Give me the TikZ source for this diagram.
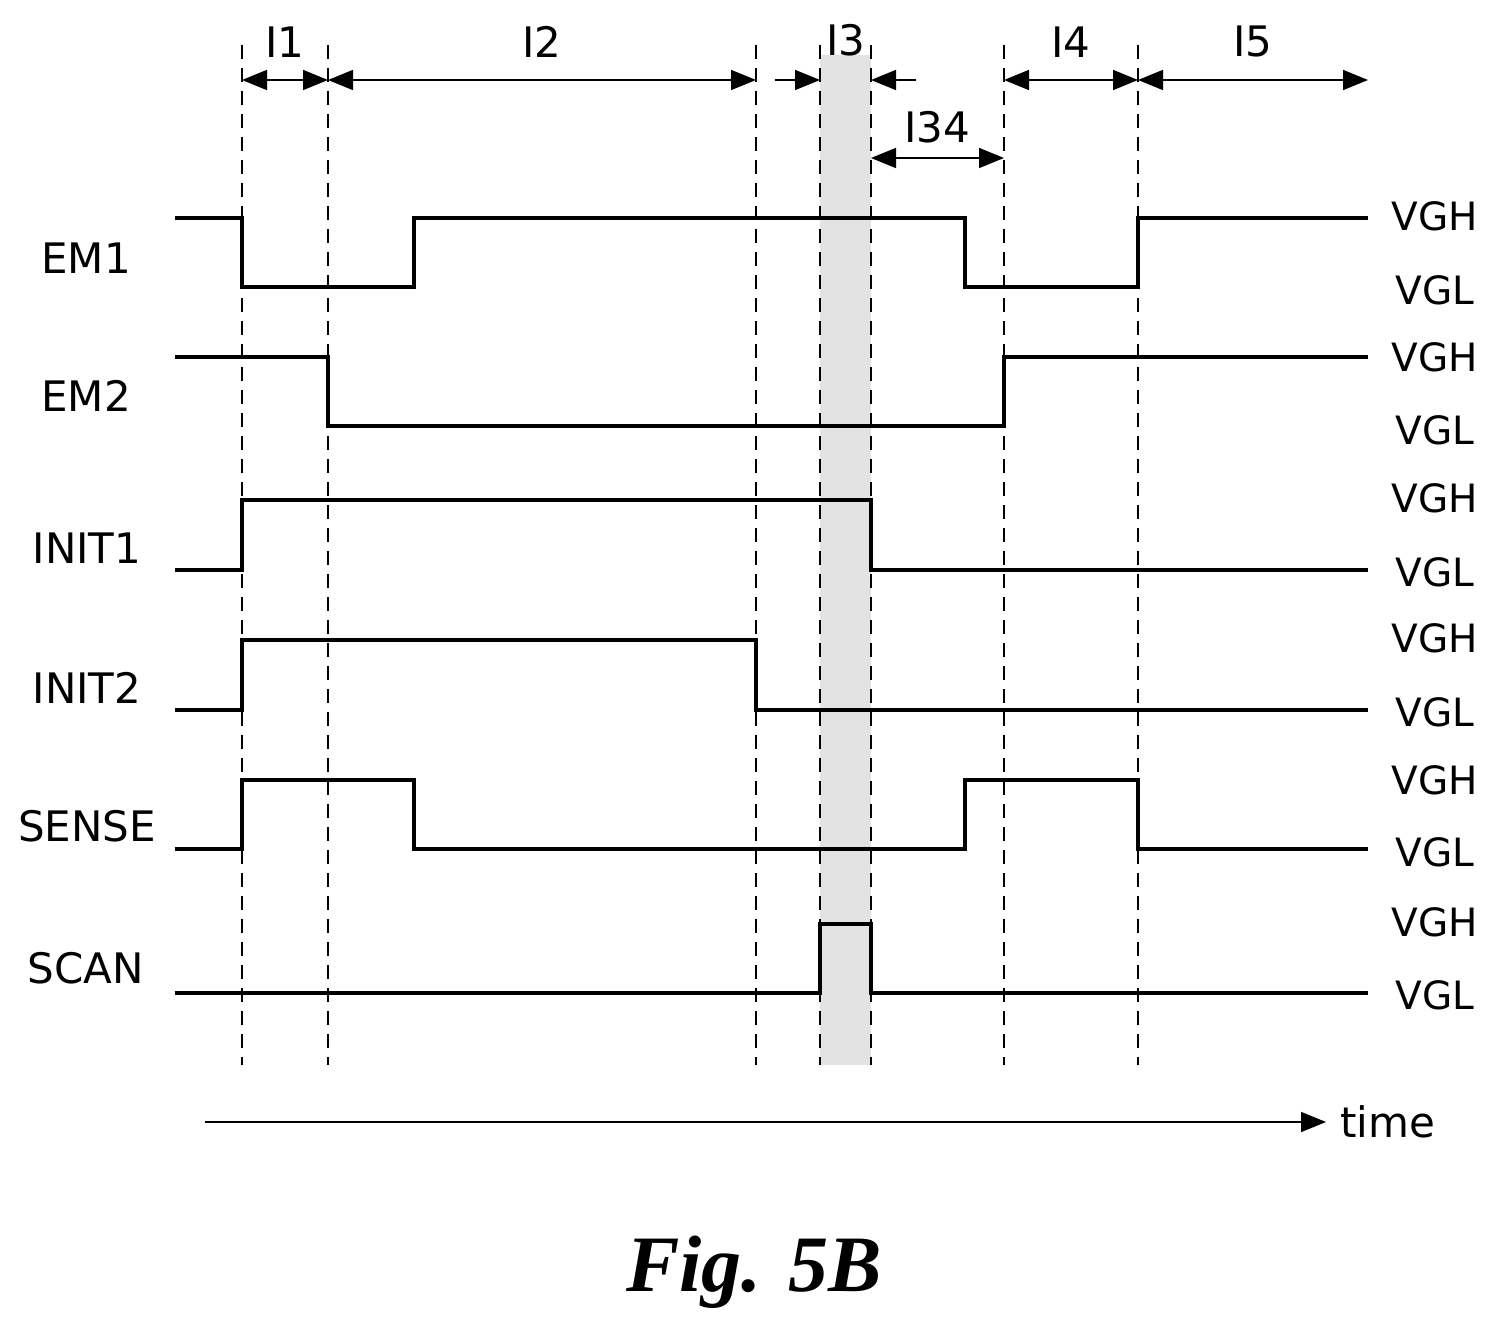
\documentclass[tikz,border=0pt]{standalone}
\usepackage{fontspec}
\setmainfont{DejaVu Sans}
\newfontfamily\figfont{Liberation Serif}
\usetikzlibrary{arrows.meta, positioning}
\begin{document}
\begin{tikzpicture}[x=1pt, y=-1pt,
 signal/.style={line width=3.4pt, line join=miter},
 guide/.style={line width=1.4pt, dash pattern=on 14pt off 9pt},
 span/.style={line width=1.6pt, {Triangle[length=25pt,width=20pt]}-{Triangle[length=25pt,width=20pt]}},
 tip/.style={line width=1.6pt, -{Triangle[length=25pt,width=20pt]}},
 lbl/.style={font=\fontsize{42}{46}\selectfont, inner sep=0pt},
 lvl/.style={font=\fontsize{39}{43}\selectfont, inner sep=0pt},
 ]
 \useasboundingbox (0,0) rectangle (1498,1340);
 % shaded I3 band
 \fill[gray!22] (820,55) rectangle (871,1065);
 % dashed guides
 \foreach \x in {242,328,756,820,871,1004,1138}
  \draw[guide] (\x,45) -- (\x,1065);

 % interval arrows
 \coordinate (t1) at (242,80); \coordinate (t2) at (328,80);
 \coordinate (t3) at (756,80); \coordinate (t4) at (1004,80);
 \coordinate (t5) at (1138,80); \coordinate (t6) at (1368,80);
 \draw[span] (t1) -- node[lbl, above=22pt] {I1} (t2);
 \draw[span] (t2) -- node[lbl, above=22pt] {I2} (t3);
 \coordinate (i3a) at (775,80); \coordinate (i3b) at (820,80);
 \coordinate (i3c) at (916,80); \coordinate (i3d) at (871,80);
 \draw[tip] (i3a) -- (i3b);
 \draw[tip] (i3c) -- (i3d);
 \node[lbl] (lI3) at (846,40) {I3};
 \draw[span] (t4) -- node[lbl, above=22pt] {I4} (t5);
 \draw[span] (t5) -- node[lbl, above=22pt] {I5} (t6);
 \coordinate (s34a) at (871,158); \coordinate (s34b) at (1004,158);
 \draw[span] (s34a) -- node[lbl, above=14pt] {I34} (s34b);

 % waveforms
 \draw[signal] (175,218) -- (242,218) -- (242,287) -- (414,287) -- (414,218)
  -- (965,218) -- (965,287) -- (1138,287) -- (1138,218) -- (1368,218);
 \draw[signal] (175,357) -- (328,357) -- (328,426) -- (1004,426) -- (1004,357) -- (1368,357);
 \draw[signal] (175,570) -- (242,570) -- (242,500) -- (871,500) -- (871,570) -- (1368,570);
 \draw[signal] (175,710) -- (242,710) -- (242,640) -- (756,640) -- (756,710) -- (1368,710);
 \draw[signal] (175,849) -- (242,849) -- (242,780) -- (414,780) -- (414,849)
  -- (965,849) -- (965,780) -- (1138,780) -- (1138,849) -- (1368,849);
 \draw[signal] (175,993) -- (820,993) -- (820,924) -- (871,924) -- (871,993) -- (1368,993);

 % names and levels
 \node[lbl] (nEM1) at (86,258) {EM1};
 \node[lbl] (nEM2) at (86,396) {EM2};
 \node[lbl] (nINIT1) at (87,548) {INIT1};
 \node[lbl] (nINIT2) at (87,688) {INIT2};
 \node[lbl] (nSENSE) at (87,826) {SENSE};
 \node[lbl] (nSCAN) at (86,968) {SCAN};
 \foreach \h/\l [count=\i] in {216/290,357/430,498/572,638/712,780/852,922/995} {
  \node[lvl] (vgh\i) at (1435,\h) {VGH};
  \node[lvl] (vgl\i) at (1435,\l) {VGL};
 }

 % time axis
 \coordinate (tstart) at (205,1122);
 \node[lbl, anchor=west] (time) at (1340,1122) {time};
 \draw[line width=1.6pt, -{Triangle[length=25pt,width=20pt]}] (tstart) -- ([xshift=-14pt]time.west);

 \node[font=\figfont\bfseries\itshape\fontsize{80}{82}\selectfont, inner sep=0pt] (fig) at (754,1272) {Fig. 5B};
\end{tikzpicture}
\end{document}
